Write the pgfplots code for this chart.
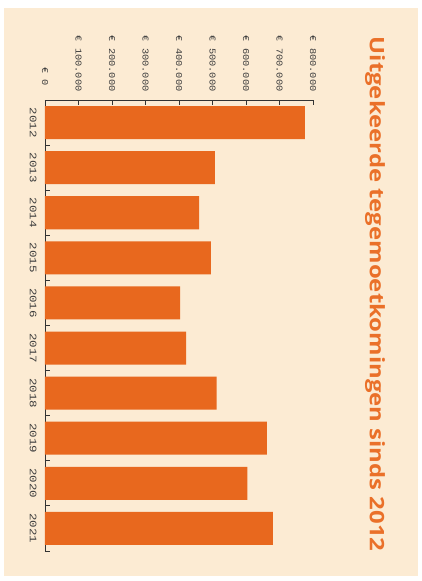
\documentclass[border=0pt]{standalone}
\usepackage{fontspec}
\usepackage{pgfplots}
\pgfplotsset{compat=1.18}
\newfontfamily\tickfont{Liberation Mono}
\newfontfamily\titlefont{Open Sans}
\definecolor{cream}{HTML}{FCEBD3}
\definecolor{barorange}{HTML}{E8681E}
\definecolor{titleorange}{HTML}{EA7029}
\definecolor{txt}{HTML}{3C3C3C}
\newcommand{\sx}[1]{\scalebox{1.15}[1]{#1}}
\newcommand{\sy}[1]{\scalebox{1.25}[1]{#1}}
\begin{document}
\begin{tikzpicture}
\useasboundingbox (0,0) rectangle (422bp,-581bp);
\fill[white] (0,0) rectangle (422bp,-581bp);
\fill[cream] (4bp,-8bp) rectangle (418bp,-576bp);
\begin{axis}[
  at={(45bp,-100bp)}, anchor=north west,
  scale only axis, width=268bp, height=451bp,
  xbar, bar width=33bp,
  xmin=0, xmax=800000, ymin=-0.5, ymax=9.5,
  axis x line*=top, axis y line*=left,
  axis line style={draw=black!80, line width=0.8pt},
  tick align=inside,
  major tick length=5bp,
  tick style={draw=black!80, line width=0.8pt},
  scaled x ticks=false,
  xtick={0,100000,200000,300000,400000,500000,600000,700000,800000},
  xticklabels={\sx{€ 0\hspace{5pt}},\sx{€ 100.000},\sx{€ 200.000},\sx{€ 300.000},\sx{€ 400.000},\sx{€ 500.000},\sx{€ 600.000},\sx{€ 700.000},\sx{€ 800.000}},
  xticklabel style={rotate=-90, anchor=east, font=\tickfont\fontsize{9}{9}\selectfont, text=txt},
  xticklabel shift={5bp},
  ytick={-0.5,0.5,1.5,2.5,3.5,4.5,5.5,6.5,7.5,8.5},
  yticklabels={},
  extra y ticks={0,1,2,3,4,5,6,7,8,9},
  extra y tick labels={\sy{2021},\sy{2020},\sy{2019},\sy{2018},\sy{2017},\sy{2016},\sy{2015},\sy{2014},\sy{2013},\sy{2012}},
  extra y tick style={major tick length=0pt, tick style={draw=none}},
  yticklabel style={rotate=-90, anchor=north, font=\tickfont\fontsize{10}{10}\selectfont, text=txt},
  yticklabel shift={5bp},
]
\addplot[fill=barorange, draw=none] coordinates {
  (776000,9) (507000,8) (460000,7) (495000,6) (403000,5)
  (421000,4) (512000,3) (662000,2) (604000,1) (680000,0)
};
\end{axis}
\node[rotate=-90, text=titleorange, font=\titlefont\bfseries\fontsize{20}{20}\selectfont, inner sep=0pt] at (375bp,-294bp) {\scalebox{1.2}[1]{Uitgekeerde tegemoetkomingen sinds 2012}};
\end{tikzpicture}
\end{document}
